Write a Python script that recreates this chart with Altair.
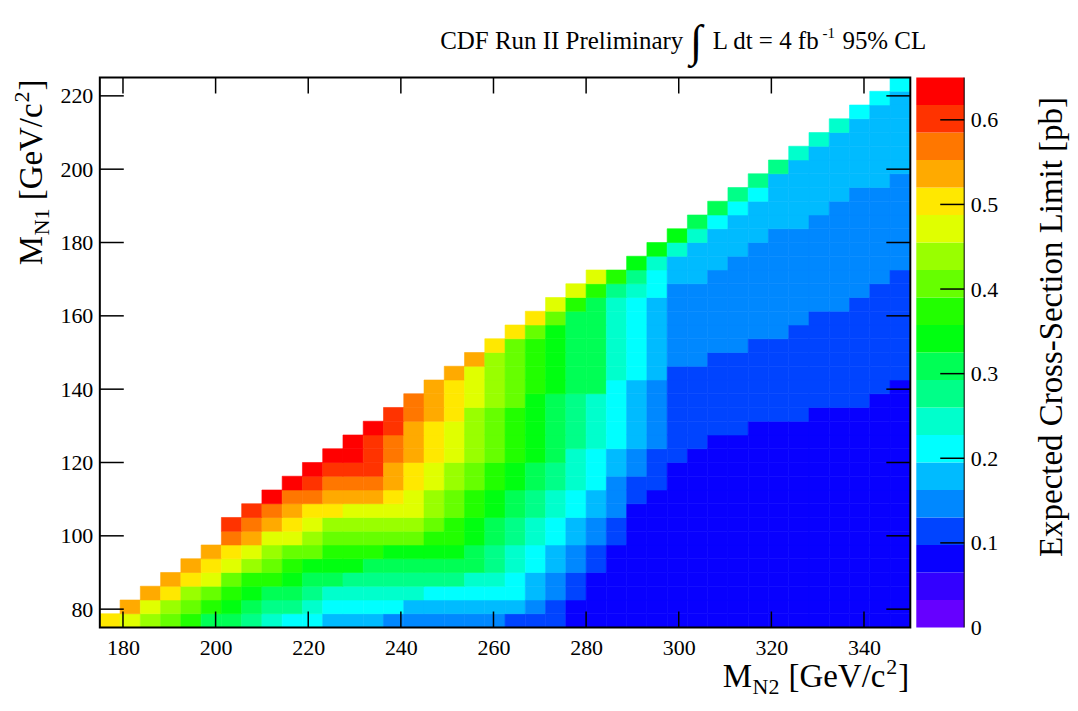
import altair as alt
import numpy as np
import pandas as pd

# ---------------- binning of the 2D histogram ----------------
mn2_edges = np.linspace(175.0, 350.0, 41)   # M_N2 bins [GeV/c^2]
mn1_edges = np.linspace(75.0, 225.0, 41)    # M_N1 bins [GeV/c^2]

# first filled M_N2 bin in every M_N1 row (rows from bottom to top)
row_first_bin = [0, 1, 2, 3, 4, 5, 6, 6, 7, 8, 9, 10, 11, 12, 13, 14, 15, 16, 17, 18,
                 19, 20, 21, 22, 23, 24, 26, 27, 28, 29, 30, 31, 32, 33, 34, 35, 36, 37, 38, 39]

# expected cross-section limit [pb], one list per M_N1 row, starting at row_first_bin
lim_r00 = [0.50, 0.47, 0.44, 0.41, 0.37, 0.31, 0.31, 0.28, 0.24, 0.21,
           0.21, 0.18, 0.18, 0.18, 0.15, 0.15, 0.15, 0.15, 0.15, 0.15,
           0.11, 0.11, 0.11, 0.08, 0.08, 0.08, 0.08, 0.08, 0.08, 0.08,
           0.08, 0.08, 0.08, 0.08, 0.08, 0.08, 0.08, 0.08, 0.08, 0.08]
lim_r01 = [0.54, 0.47, 0.44, 0.41, 0.37, 0.34, 0.31, 0.28, 0.28, 0.24,
           0.21, 0.21, 0.21, 0.21, 0.18, 0.18, 0.18, 0.18, 0.18, 0.18,
           0.15, 0.11, 0.08, 0.08, 0.08, 0.08, 0.08, 0.08, 0.08, 0.08,
           0.08, 0.08, 0.08, 0.08, 0.08, 0.08, 0.08, 0.08, 0.08]
lim_r02 = [0.54, 0.50, 0.44, 0.41, 0.37, 0.34, 0.31, 0.31, 0.28, 0.24,
           0.24, 0.24, 0.24, 0.24, 0.21, 0.21, 0.21, 0.21, 0.21, 0.18,
           0.15, 0.11, 0.08, 0.08, 0.08, 0.08, 0.08, 0.08, 0.08, 0.08,
           0.08, 0.08, 0.08, 0.08, 0.08, 0.08, 0.08, 0.08]
lim_r03 = [0.54, 0.50, 0.47, 0.41, 0.37, 0.37, 0.34, 0.31, 0.31, 0.28,
           0.28, 0.28, 0.28, 0.28, 0.28, 0.24, 0.24, 0.21, 0.18, 0.15,
           0.11, 0.08, 0.08, 0.08, 0.08, 0.08, 0.08, 0.08, 0.08, 0.08,
           0.08, 0.08, 0.08, 0.08, 0.08, 0.08, 0.08]
lim_r04 = [0.54, 0.50, 0.47, 0.44, 0.41, 0.37, 0.34, 0.34, 0.34, 0.31,
           0.31, 0.31, 0.31, 0.31, 0.31, 0.28, 0.24, 0.21, 0.18, 0.15,
           0.11, 0.08, 0.08, 0.08, 0.08, 0.08, 0.08, 0.08, 0.08, 0.08,
           0.08, 0.08, 0.08, 0.08, 0.08, 0.08]
lim_r05 = [0.54, 0.50, 0.47, 0.44, 0.41, 0.41, 0.37, 0.37, 0.37, 0.34,
           0.34, 0.34, 0.34, 0.31, 0.28, 0.24, 0.21, 0.18, 0.15, 0.11,
           0.08, 0.08, 0.08, 0.08, 0.08, 0.08, 0.08, 0.08, 0.08, 0.08,
           0.08, 0.08, 0.08, 0.08, 0.08]
lim_r06 = [0.57, 0.54, 0.47, 0.47, 0.44, 0.41, 0.41, 0.41, 0.41, 0.41,
           0.37, 0.37, 0.34, 0.31, 0.28, 0.24, 0.21, 0.18, 0.15, 0.11,
           0.08, 0.08, 0.08, 0.08, 0.08, 0.08, 0.08, 0.08, 0.08, 0.08,
           0.08, 0.08, 0.08, 0.08]
lim_r07 = [0.60, 0.57, 0.54, 0.50, 0.47, 0.44, 0.44, 0.44, 0.44, 0.44,
           0.41, 0.37, 0.34, 0.31, 0.28, 0.24, 0.21, 0.18, 0.15, 0.11,
           0.08, 0.08, 0.08, 0.08, 0.08, 0.08, 0.08, 0.08, 0.08, 0.08,
           0.08, 0.08, 0.08, 0.08]
lim_r08 = [0.60, 0.57, 0.54, 0.50, 0.50, 0.47, 0.47, 0.47, 0.47, 0.44,
           0.41, 0.37, 0.34, 0.31, 0.28, 0.24, 0.21, 0.18, 0.15, 0.08,
           0.08, 0.08, 0.08, 0.08, 0.08, 0.08, 0.08, 0.08, 0.08, 0.08,
           0.08, 0.08, 0.08]
lim_r09 = [0.63, 0.57, 0.57, 0.54, 0.54, 0.54, 0.50, 0.47, 0.44, 0.41,
           0.37, 0.34, 0.31, 0.28, 0.24, 0.21, 0.18, 0.15, 0.11, 0.08,
           0.08, 0.08, 0.08, 0.08, 0.08, 0.08, 0.08, 0.08, 0.08, 0.08,
           0.08, 0.08]
lim_r10 = [0.63, 0.60, 0.57, 0.57, 0.57, 0.54, 0.50, 0.47, 0.44, 0.41,
           0.37, 0.34, 0.31, 0.28, 0.24, 0.21, 0.15, 0.11, 0.11, 0.08,
           0.08, 0.08, 0.08, 0.08, 0.08, 0.08, 0.08, 0.08, 0.08, 0.08,
           0.08]
lim_r11 = [0.63, 0.60, 0.60, 0.60, 0.54, 0.50, 0.47, 0.44, 0.41, 0.37,
           0.34, 0.31, 0.28, 0.24, 0.21, 0.18, 0.15, 0.11, 0.08, 0.08,
           0.08, 0.08, 0.08, 0.08, 0.08, 0.08, 0.08, 0.08, 0.08, 0.08]
lim_r12 = [0.63, 0.63, 0.60, 0.57, 0.54, 0.50, 0.47, 0.44, 0.41, 0.37,
           0.34, 0.31, 0.24, 0.21, 0.18, 0.15, 0.11, 0.11, 0.08, 0.08,
           0.08, 0.08, 0.08, 0.08, 0.08, 0.08, 0.08, 0.08, 0.08]
lim_r13 = [0.63, 0.60, 0.57, 0.54, 0.50, 0.47, 0.44, 0.41, 0.37, 0.34,
           0.31, 0.28, 0.24, 0.21, 0.18, 0.15, 0.11, 0.11, 0.08, 0.08,
           0.08, 0.08, 0.08, 0.08, 0.08, 0.08, 0.08, 0.08]
lim_r14 = [0.63, 0.60, 0.54, 0.50, 0.47, 0.44, 0.41, 0.37, 0.34, 0.31,
           0.28, 0.24, 0.21, 0.18, 0.15, 0.11, 0.11, 0.11, 0.11, 0.08,
           0.08, 0.08, 0.08, 0.08, 0.08, 0.08, 0.08]
lim_r15 = [0.60, 0.57, 0.54, 0.50, 0.44, 0.41, 0.37, 0.34, 0.31, 0.28,
           0.24, 0.21, 0.18, 0.15, 0.11, 0.11, 0.11, 0.11, 0.11, 0.11,
           0.11, 0.08, 0.08, 0.08, 0.08, 0.08]
lim_r16 = [0.57, 0.54, 0.50, 0.47, 0.44, 0.41, 0.34, 0.31, 0.28, 0.24,
           0.21, 0.18, 0.15, 0.11, 0.11, 0.11, 0.11, 0.11, 0.11, 0.11,
           0.11, 0.11, 0.11, 0.08, 0.08]
lim_r17 = [0.54, 0.50, 0.47, 0.44, 0.41, 0.37, 0.34, 0.31, 0.31, 0.21,
           0.18, 0.15, 0.11, 0.11, 0.11, 0.11, 0.11, 0.11, 0.11, 0.11,
           0.11, 0.11, 0.11, 0.08]
lim_r18 = [0.54, 0.47, 0.44, 0.41, 0.37, 0.34, 0.31, 0.31, 0.24, 0.21,
           0.18, 0.11, 0.11, 0.11, 0.11, 0.11, 0.11, 0.11, 0.11, 0.11,
           0.11, 0.11, 0.11]
lim_r19 = [0.54, 0.44, 0.41, 0.37, 0.34, 0.31, 0.31, 0.24, 0.21, 0.18,
           0.15, 0.15, 0.11, 0.11, 0.11, 0.11, 0.11, 0.11, 0.11, 0.11,
           0.11, 0.11]
lim_r20 = [0.50, 0.41, 0.37, 0.34, 0.31, 0.31, 0.24, 0.21, 0.18, 0.15,
           0.15, 0.15, 0.15, 0.11, 0.11, 0.11, 0.11, 0.11, 0.11, 0.11,
           0.11]
lim_r21 = [0.50, 0.41, 0.34, 0.31, 0.31, 0.24, 0.21, 0.18, 0.15, 0.15,
           0.15, 0.15, 0.15, 0.15, 0.11, 0.11, 0.11, 0.11, 0.11, 0.11]
lim_r22 = [0.50, 0.41, 0.31, 0.31, 0.24, 0.21, 0.18, 0.15, 0.15, 0.15,
           0.15, 0.15, 0.15, 0.15, 0.11, 0.11, 0.11, 0.11, 0.11]
lim_r23 = [0.47, 0.37, 0.31, 0.24, 0.21, 0.18, 0.15, 0.15, 0.15, 0.15,
           0.15, 0.15, 0.15, 0.15, 0.15, 0.11, 0.11, 0.11]
lim_r24 = [0.47, 0.37, 0.28, 0.24, 0.21, 0.15, 0.15, 0.15, 0.15, 0.15,
           0.15, 0.15, 0.15, 0.15, 0.15, 0.11, 0.11]
lim_r25 = [0.47, 0.37, 0.28, 0.21, 0.18, 0.18, 0.15, 0.15, 0.15, 0.15,
           0.15, 0.15, 0.15, 0.15, 0.15, 0.11]
lim_r26 = [0.34, 0.24, 0.18, 0.18, 0.18, 0.15, 0.15, 0.15, 0.15, 0.15,
           0.15, 0.15, 0.15, 0.15]
lim_r27 = [0.34, 0.24, 0.18, 0.18, 0.18, 0.15, 0.15, 0.15, 0.15, 0.15,
           0.15, 0.15, 0.15]
lim_r28 = [0.34, 0.24, 0.18, 0.18, 0.18, 0.15, 0.15, 0.15, 0.15, 0.15,
           0.15, 0.15]
lim_r29 = [0.31, 0.21, 0.18, 0.18, 0.18, 0.18, 0.15, 0.15, 0.15, 0.15, 0.15]
lim_r30 = [0.31, 0.21, 0.18, 0.18, 0.18, 0.18, 0.15, 0.15, 0.15, 0.15]
lim_r31 = [0.28, 0.21, 0.18, 0.18, 0.18, 0.18, 0.15, 0.15, 0.15]
lim_r32 = [0.28, 0.18, 0.18, 0.18, 0.18, 0.18, 0.18, 0.15]
lim_r33 = [0.28, 0.18, 0.18, 0.18, 0.18, 0.18, 0.18]
lim_r34 = [0.24, 0.18, 0.18, 0.18, 0.18, 0.18]
lim_r35 = [0.24, 0.18, 0.18, 0.18, 0.18]
lim_r36 = [0.24, 0.18, 0.18, 0.18]
lim_r37 = [0.21, 0.18, 0.18]
lim_r38 = [0.21, 0.18]
lim_r39 = [0.21]

lim_rows = [lim_r00, lim_r01, lim_r02, lim_r03, lim_r04, lim_r05, lim_r06, lim_r07,
            lim_r08, lim_r09, lim_r10, lim_r11, lim_r12, lim_r13, lim_r14, lim_r15,
            lim_r16, lim_r17, lim_r18, lim_r19, lim_r20, lim_r21, lim_r22, lim_r23,
            lim_r24, lim_r25, lim_r26, lim_r27, lim_r28, lim_r29, lim_r30, lim_r31,
            lim_r32, lim_r33, lim_r34, lim_r35, lim_r36, lim_r37, lim_r38, lim_r39]

x_ticks = [180, 200, 220, 240, 260, 280, 300, 320, 340]
y_ticks = [80, 100, 120, 140, 160, 180, 200, 220]
z_ticks = [0, 0.1, 0.2, 0.3, 0.4, 0.5, 0.6]
z_max = 0.65
palette = ["#6600FF", "#3300FF", "#0800FF", "#0044FF", "#0088FF", "#00BBFF", "#00FFFF",
           "#00FFCC", "#00FF88", "#00FF55", "#00FF11", "#22FF00", "#66FF00", "#99FF00",
           "#E0FF00", "#FFE800", "#FFAA00", "#FF7700", "#FF3300", "#FF0000"]
z_edges = np.linspace(0.0, z_max, len(palette) + 1)

# ---------------- tables ----------------
records = []
for j, (start, row) in enumerate(zip(row_first_bin, lim_rows)):
    if start + len(row) != 40:
        raise ValueError(f"row {j} has wrong length {len(row)}")
    for k, v in enumerate(row):
        c = start + k
        records.append(dict(x0=mn2_edges[c], x1=mn2_edges[c + 1],
                            y0=mn1_edges[j], y1=mn1_edges[j + 1], lim=v))
cells = pd.DataFrame(records)
bands = pd.DataFrame({"lo": z_edges[:-1], "hi": z_edges[1:]})
bands["mid"] = (bands["lo"] + bands["hi"]) / 2

W, H = 812, 551
FONT = "Liberation Serif"

xsc = alt.Scale(domain=[175, 350], nice=False, zero=False)
ysc = alt.Scale(domain=[75, 225], nice=False, zero=False)
zsc = alt.Scale(domain=[0, z_max], nice=False, zero=False)
csc = alt.Scale(type="threshold", domain=[float(v) for v in z_edges[1:-1]], range=palette)

ax_x = alt.Axis(values=x_ticks, ticks=False, domain=False, grid=False, title=None,
                labelFont=FONT, labelFontSize=22, labelColor="black", labelPadding=10,
                labelFlush=False, format="d")
ax_y = alt.Axis(values=y_ticks, ticks=False, domain=False, grid=False, title=None,
                labelFont=FONT, labelFontSize=22, labelColor="black", labelPadding=7,
                format="d")
ax_z = alt.Axis(orient="right", offset=54, values=z_ticks, ticks=False, domain=False,
                grid=False, title=None, labelFont=FONT, labelFontSize=22,
                labelColor="black", labelPadding=6, labelFlush=False,
                labelExpr="datum.value == 0 ? '0' : format(datum.value, '.1f')")

heat = alt.Chart(cells).mark_rect(strokeWidth=0.6).encode(
    x=alt.X("x0:Q", scale=xsc, axis=ax_x), x2="x1:Q",
    y=alt.Y("y0:Q", scale=ysc, axis=ax_y), y2="y1:Q",
    color=alt.Color("lim:Q", scale=csc, legend=None),
    stroke=alt.Stroke("lim:Q", scale=csc, legend=None),
)

xt = pd.DataFrame({"v": x_ticks})
yt = pd.DataFrame({"v": y_ticks})
zt = pd.DataFrame({"v": z_ticks[1:]})
rule_kw = dict(color="black", strokeWidth=1.5)

tick_b = alt.Chart(xt).mark_rule(**rule_kw).encode(
    x=alt.X("v:Q", scale=xsc, axis=ax_x), y=alt.value(H), y2=alt.value(H - 16))
tick_t = alt.Chart(xt).mark_rule(**rule_kw).encode(
    x=alt.X("v:Q", scale=xsc, axis=ax_x), y=alt.value(0), y2=alt.value(16))
tick_l = alt.Chart(yt).mark_rule(**rule_kw).encode(
    y=alt.Y("v:Q", scale=ysc, axis=None), x=alt.value(0), x2=alt.value(24))
tick_r = alt.Chart(yt).mark_rule(**rule_kw).encode(
    y=alt.Y("v:Q", scale=ysc, axis=None), x=alt.value(W), x2=alt.value(W - 24))

cbar = alt.Chart(bands).mark_rect(strokeWidth=0.6).encode(
    x=alt.value(818), x2=alt.value(866),
    y=alt.Y("lo:Q", scale=zsc, axis=ax_z), y2="hi:Q",
    color=alt.Color("mid:Q", scale=csc, legend=None),
)
cbar_ticks = alt.Chart(zt).mark_rule(**rule_kw).encode(
    y=alt.Y("v:Q", scale=zsc, axis=None), x=alt.value(842), x2=alt.value(866))
one = pd.DataFrame({"k": [0]})
cbar_edge = alt.Chart(one).mark_rule(color="black", strokeWidth=1).encode(
    x=alt.value(866), y=alt.value(0), y2=alt.value(H))
frame = alt.Chart(one).mark_rect(filled=False, stroke="black", strokeWidth=2).encode(
    x=alt.value(0), x2=alt.value(W), y=alt.value(0), y2=alt.value(H))


def txt(s, x, y, size, angle=0, align="left"):
    return alt.Chart(pd.DataFrame({"s": [s]})).mark_text(
        font=FONT, fontSize=size, angle=angle, align=align, baseline="alphabetic",
        color="black").encode(x=alt.value(x), y=alt.value(y), text="s:N")


texts = [
    # header
    txt("CDF Run II Preliminary", 341, -29, 25),
    txt("\u222b", 591, -22, 45),
    txt("L dt = 4 fb", 614, -29, 25),
    txt("-1", 724, -40, 15),
    txt("95% CL", 744, -29, 25),
    # x title  M_N2 [GeV/c^2]
    txt("M", 624, 611, 33),
    txt("N2", 654, 618, 22),
    txt("[GeV/c", 690, 611, 33),
    txt("2", 788, 598, 22),
    txt("]", 800, 611, 33),
    # y title  M_N1 [GeV/c^2]
    txt("M", -58, 188, 33, angle=270),
    txt("N1", -51, 158, 22, angle=270),
    txt("[GeV/c", -58, 123, 33, angle=270),
    txt("2", -71, 25, 22, angle=270),
    txt("]", -58, 13, 33, angle=270),
    # colour bar title
    txt("Expected Cross-Section Limit [pb]", 964, 250, 33, angle=270, align="center"),
]

chart = alt.layer(
    heat, tick_b, tick_t, tick_l, tick_r, cbar, cbar_ticks, cbar_edge, frame, *texts
).resolve_scale(y="independent").properties(
    width=W, height=H,
    padding={"left": 92, "top": 69, "right": 160, "bottom": 71},
    autosize=alt.AutoSizeParams(type="none"),
    background="white",
).configure_view(strokeWidth=0).configure_axis(
    labelFont=FONT, labelFontSize=22, labelColor="black"
)

chart.save("out.html", embed_options={"renderer": "svg", "actions": False})
